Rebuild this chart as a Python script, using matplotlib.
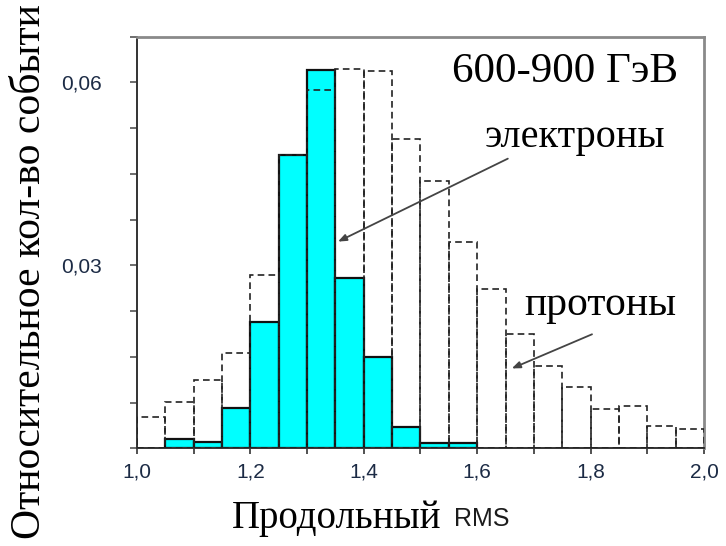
import matplotlib
matplotlib.use("Agg")
import matplotlib.pyplot as plt
import numpy as np
from matplotlib.ticker import FixedLocator, FuncFormatter

# bin left edges (RMS), width 0.05
bin_left = [1.00, 1.05, 1.10, 1.15, 1.20, 1.25, 1.30, 1.35, 1.40, 1.45,
            1.50, 1.55, 1.60, 1.65, 1.70, 1.75, 1.80, 1.85, 1.90, 1.95]
electrons = [0.0, 0.0016, 0.0011, 0.0066, 0.0207, 0.0481, 0.0620, 0.0280, 0.0150, 0.0035,
             0.0008, 0.0008, 0.0, 0.0, 0.0, 0.0, 0.0, 0.0, 0.0, 0.0]
protons = [0.0051, 0.0076, 0.0112, 0.0156, 0.0284, 0.0481, 0.0587, 0.0622, 0.0618, 0.0507,
           0.0439, 0.0338, 0.0262, 0.0187, 0.0135, 0.0101, 0.0065, 0.0069, 0.0037, 0.0032]
width = 0.05

x_major = [1.0, 1.2, 1.4, 1.6, 1.8, 2.0]
y_major = [0.03, 0.06]

SERIF = "Liberation Serif"
SANS = "Liberation Sans"
TICK_COLOR = "#1c2b45"

fig = plt.figure(figsize=(7.26, 5.46), dpi=100)
ax = fig.add_axes([0.1887, 0.1789, 0.781, 0.7539])

x = np.array(bin_left)
e = np.array(electrons)
m = e > 0
ax.bar(x[m], e[m], width=width, align="edge", color="#00ffff",
       edgecolor="#111111", linewidth=1.6, zorder=2)
ax.bar(x, protons, width=width, align="edge", fill=False,
       edgecolor="#222222", linewidth=1.2, linestyle=(0, (4, 2.5)), zorder=3)

ax.set_xlim(1.0, 2.0)
ax.set_ylim(0, 0.0675)

ax.xaxis.set_major_locator(FixedLocator(x_major))
ax.xaxis.set_minor_locator(FixedLocator(np.arange(1.1, 2.0, 0.2)))
ax.yaxis.set_major_locator(FixedLocator(y_major))
ax.yaxis.set_minor_locator(FixedLocator(np.arange(0.0, 0.0676, 0.0075)))
ax.xaxis.set_major_formatter(FuncFormatter(lambda v, p: f"{v:.1f}".replace(".", ",")))
ax.yaxis.set_major_formatter(FuncFormatter(lambda v, p: f"{v:.2f}".replace(".", ",")))

ax.tick_params(axis="x", which="both", direction="out", length=4, width=1.2,
               color="#333333", pad=6, labelsize=15, labelcolor=TICK_COLOR)
ax.tick_params(axis="y", which="both", direction="out", length=5, width=1.2,
               color="#555555", pad=20, labelsize=15, labelcolor=TICK_COLOR)
for lab in ax.get_xticklabels() + ax.get_yticklabels():
    lab.set_fontfamily(SANS)

for side in ("left", "bottom"):
    ax.spines[side].set_color("#333333")
    ax.spines[side].set_linewidth(1.4)
for side in ("top", "right"):
    ax.spines[side].set_color("#8a8a8a")
    ax.spines[side].set_linewidth(2.0)

ax.text(1.755, 0.0617, "600-900 ГэВ", family=SERIF, fontsize=31,
        ha="center", va="center", zorder=5)
ax.text(1.772, 0.0509, "электроны", family=SERIF, fontsize=29,
        ha="center", va="center", zorder=5)
ax.text(1.818, 0.0236, "протоны", family=SERIF, fontsize=30,
        ha="center", va="center", zorder=5)

arrow = dict(arrowstyle="-|>,head_length=0.5,head_width=0.2", color="#444444", lw=1.3,
             shrinkA=0, shrinkB=0)
ax.annotate("", xy=(1.3545, 0.0339), xytext=(1.654, 0.0475), arrowprops=arrow, zorder=6)
ax.annotate("", xy=(1.661, 0.0131), xytext=(1.8025, 0.0187), arrowprops=arrow, zorder=6)

fig.text(232 / 726, 1 - 528 / 546, "Продольный", family=SERIF, fontsize=28,
         ha="left", va="baseline")
fig.text(454 / 726, 1 - 526 / 546, "RMS", family=SANS, fontsize=18,
         ha="left", va="baseline", color="#1c1c1c")
fig.text(30 / 726, 1 - 272 / 546, "Относительное кол-во событи", family=SERIF,
         fontsize=30, rotation=90, ha="center", va="center")

fig.savefig("out.png", dpi=100, facecolor="white")
